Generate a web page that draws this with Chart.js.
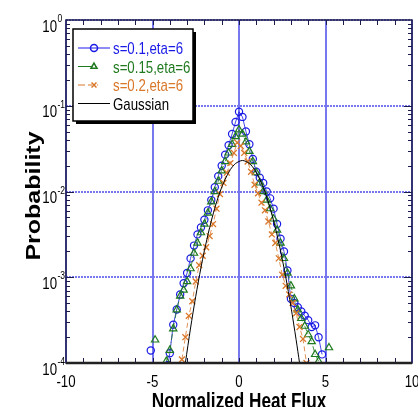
<!DOCTYPE html>
<html>
<head>
<meta charset="utf-8">
<script src="https://cdn.jsdelivr.net/npm/chart.js@4.4.0/dist/chart.umd.min.js"></script>
<style>
  html, body { margin: 0; padding: 0; background: #fff; }
  #wrap { width: 418px; height: 407px; }
</style>
</head>
<body>
<div id="wrap"><canvas id="pdfChart" width="418" height="407"></canvas></div>
<script>
// series names and axis titles
const seriesLabels = ['s=0.1,eta=6', 's=0.15,eta=6', 's=0.2,eta=6', 'Gaussian'];
const xTitle = 'Normalized Heat Flux';
const yTitle = 'Probability';

// axis ticks
const xTicks = [-10, -5, 0, 5, 10];
const yTicks = [1e-4, 1e-3, 1e-2, 1e-1, 1];

// s=0.1 (blue circles)
const blueX = [-5.1, -4.9, -4.3, -4.1, -4.0, -3.8, -3.6, -3.4, -3.2, -3.0, -2.8, -2.6, -2.4, -2.2, -2.0, -1.8, -1.6, -1.4, -1.2, -1.0,
  -0.8, -0.6, -0.4, -0.2, 0.0, 0.2, 0.4, 0.6, 0.8, 1.0, 1.2, 1.4, 1.6, 1.8, 2.0, 2.2, 2.4, 2.6, 2.8, 3.0,
  3.2, 3.4, 3.6, 3.8, 4.0, 4.2, 4.4, 4.6, 4.8];
const blueP = [1.4e-4, 0, 0, 9.5e-5, 1.3e-4, 2.8e-4, 4.2e-4, 6.3e-4, 8.5e-4, 1.12e-3, 1.66e-3, 2.34e-3, 3.16e-3, 3.8e-3, 4.68e-3, 6.03e-3, 7.94e-3, 1.12e-2, 1.51e-2, 2.0e-2,
  2.69e-2, 3.47e-2, 4.68e-2, 6.46e-2, 8.51e-2, 7.41e-2, 5.01e-2, 3.55e-2, 2.4e-2, 1.7e-2, 1.45e-2, 1.26e-2, 1.0e-2, 8.32e-3, 6.31e-3, 4.17e-3, 2.82e-3, 2.0e-3, 1.2e-3, 5.6e-4,
  5.0e-4, 4.47e-4, 3.98e-4, 3.55e-4, 3.16e-4, 2.63e-4, 2.75e-4, 2.0e-4, 1.26e-4];

// s=0.15 (green triangles)
const greenX = [-4.85, -4.6, -4.4, -4.2, -4.0, -3.8, -3.6, -3.4, -3.2, -3.0, -2.8, -2.6, -2.4, -2.2, -2.0, -1.8, -1.6, -1.4, -1.2, -1.0,
  -0.8, -0.6, -0.4, -0.2, 0.0, 0.2, 0.4, 0.6, 0.8, 1.0, 1.2, 1.4, 1.6, 1.8, 2.0, 2.2, 2.4, 2.6, 2.8, 3.0,
  3.2, 3.4, 3.6, 3.8, 4.0, 4.2, 4.4, 4.6, 4.9, 5.1, 5.2, 5.4];
const greenP = [1.86e-4, 0, 0, 1.05e-4, 1.41e-4, 2.51e-4, 4.17e-4, 6.03e-4, 7.08e-4, 8.91e-4, 1.26e-3, 1.91e-3, 2.51e-3, 3.31e-3, 4.17e-3, 5.62e-3, 7.59e-3, 1.0e-2, 1.32e-2, 1.74e-2,
  2.24e-2, 2.82e-2, 3.55e-2, 4.37e-2, 5.25e-2, 4.68e-2, 3.8e-2, 2.95e-2, 2.24e-2, 1.66e-2, 1.26e-2, 1.0e-2, 7.94e-3, 6.31e-3, 4.79e-3, 3.55e-3, 2.51e-3, 1.66e-3, 1.12e-3, 7.94e-4,
  5.62e-4, 4.17e-4, 3.31e-4, 2.69e-4, 2.14e-4, 1.78e-4, 1.26e-4, 1.05e-4, 0, 0, 1.51e-4, 0];

// s=0.2 (orange crosses)
const orangeX = [-3.3, -3.1, -2.9, -2.7, -2.5, -2.3, -2.1, -1.9, -1.7, -1.5, -1.3, -1.1, -0.9, -0.7, -0.5, -0.3, -0.1,
  0.1, 0.3, 0.5, 0.7, 0.9, 1.1, 1.3, 1.5, 1.7, 1.9, 2.1, 2.3, 2.5, 2.7, 2.9, 3.1, 3.3, 3.5, 3.7, 3.9, 4.1];
const orangeP = [1.1e-4, 2.0e-4, 3.55e-4, 5.25e-4, 8.91e-4, 1.38e-3, 1.78e-3, 2.24e-3, 3.02e-3, 4.17e-3, 6.31e-3, 9.33e-3, 1.26e-2, 1.66e-2, 2.14e-2, 2.82e-2, 3.72e-2,
  3.39e-2, 2.82e-2, 2.24e-2, 1.7e-2, 1.2e-2, 9.55e-3, 7.41e-3, 6.03e-3, 4.47e-3, 3.16e-3, 2.51e-3, 1.66e-3, 1.07e-3, 7.94e-4, 6.31e-4, 5.01e-4, 3.8e-4, 2.63e-4, 1.91e-4, 1.0e-4, 0];

// Gaussian reference curve
const gaussX = [-3.1, -2.8, -2.5, -2.2, -2.0, -1.7, -1.4, -1.1, -0.8, -0.5, -0.2, 0.2, 0.6, 0.9, 1.2, 1.5, 1.8, 2.1, 2.4, 2.7, 3.0, 3.3, 3.5];
const gaussP = [1.0e-4, 2.56e-4, 6.0e-4, 1.29e-3, 2.04e-3, 3.78e-3, 6.39e-3, 9.88e-3, 1.39e-2, 1.8e-2, 2.12e-2, 2.3e-2, 2.12e-2, 1.8e-2, 1.39e-2, 9.88e-3, 6.39e-3, 3.78e-3, 2.04e-3, 1.01e-3, 4.56e-4, 1.88e-4, 1.0e-4];

const seriesColors = ['#1a1ae6', '#1f7a1f', '#d9772a', '#000000'];
const gridBlue = '#7878ee';
const frameColor = '#1c1c4c';
const SQ = 0.78; // the source figure has horizontally squashed text

function toPoints(xs, ps) {
    return xs.map((x, i) => ({ x: x, y: ps[i] }));
}

function markerRadius(r) {
    return ctx => (ctx.raw && ctx.raw.y === 0) ? 0 : r;
}

function squeezedText(ctx, text, x, y, font, color, align) {
    ctx.save();
    ctx.translate(x, y);
    ctx.scale(SQ, 1);
    ctx.font = font;
    ctx.fillStyle = color;
    ctx.textAlign = align || 'left';
    ctx.textBaseline = 'alphabetic';
    ctx.fillText(text, 0, 0);
    ctx.restore();
}

// frame, inner tick marks and labels
const axesPlugin = {
    id: 'axesDeco',
    afterDatasetsDraw(chart) {
        const { ctx, chartArea: a, scales: { x, y } } = chart;
        ctx.save();
        ctx.strokeStyle = frameColor;
        ctx.lineWidth = 1;
        ctx.beginPath();
        for (let v = xTicks[0] + 1; v < xTicks[xTicks.length - 1]; v++) {
            const px = Math.round(x.getPixelForValue(v)) + 0.5;
            ctx.moveTo(px, a.bottom); ctx.lineTo(px, a.bottom - 5);
            ctx.moveTo(px, a.top); ctx.lineTo(px, a.top + 5);
        }
        for (let i = 0; i < yTicks.length - 1; i++) {
            for (let m = 1; m < 10; m++) {
                const py = Math.round(y.getPixelForValue(yTicks[i] * m)) + 0.5;
                const len = m === 1 ? 8 : 4;
                ctx.moveTo(a.left, py); ctx.lineTo(a.left + len, py);
                ctx.moveTo(a.right, py); ctx.lineTo(a.right - len, py);
            }
        }
        ctx.stroke();
        ctx.lineWidth = 1.5;
        ctx.strokeRect(a.left, a.top, a.right - a.left, a.bottom - a.top);
        ctx.lineWidth = 2.5;
        ctx.strokeStyle = '#222';
        ctx.beginPath();
        ctx.moveTo(a.left, a.bottom); ctx.lineTo(a.right, a.bottom);
        ctx.stroke();
        ctx.restore();

        // y tick labels 10^n
        yTicks.forEach(v => {
            const py = y.getPixelForValue(v);
            const exp = String(Math.round(Math.log10(v)));
            squeezedText(ctx, '10', 57, py + 11.5, '17px "Liberation Sans", Arial, sans-serif', '#000', 'right');
            squeezedText(ctx, exp, 57.5, py + 2, '11px "Liberation Sans", Arial, sans-serif', '#000', 'left');
        });
        // x tick labels
        xTicks.forEach(v => {
            const px = x.getPixelForValue(v);
            squeezedText(ctx, String(v), px, 387, '17px "Liberation Sans", Arial, sans-serif', '#000', 'center');
        });
        // axis titles
        squeezedText(ctx, xTitle, x.getPixelForValue(0), 408, 'bold 22px "Liberation Sans", Arial, sans-serif', '#000', 'center');
        ctx.save();
        ctx.translate(35, 196);
        ctx.rotate(-Math.PI / 2);
        ctx.scale(1, SQ);
        ctx.font = 'bold 25px "Liberation Sans", Arial, sans-serif';
        ctx.fillStyle = '#000';
        ctx.textAlign = 'center';
        ctx.textBaseline = 'middle';
        ctx.fillText(yTitle, 0, 0);
        ctx.restore();
    }
};

// boxed legend with drop shadow
const legendPlugin = {
    id: 'boxLegend',
    afterDraw(chart) {
        const ctx = chart.ctx;
        const bx = 73, by = 29, bw = 120, bh = 92;
        ctx.save();
        ctx.fillStyle = '#000';
        ctx.fillRect(bx + 3, by + 3, bw, bh);
        ctx.fillStyle = '#fff';
        ctx.fillRect(bx, by, bw, bh);
        ctx.strokeStyle = '#000';
        ctx.lineWidth = 1.5;
        ctx.strokeRect(bx, by, bw, bh);

        const rowsY = [48, 66.5, 85, 103.5];
        const styles = ['circle', 'triangle', 'crossRot', null];
        const dashes = [[], [14, 3, 1, 30], [7, 3, 4, 5, 1, 20], []];
        rowsY.forEach((ry, i) => {
            const col = seriesColors[i];
            ctx.save();
            ctx.strokeStyle = col;
            ctx.lineWidth = 1;
            ctx.setLineDash(dashes[i]);
            ctx.beginPath();
            ctx.moveTo(78, ry); ctx.lineTo(110, ry);
            ctx.stroke();
            ctx.restore();
            if (styles[i]) {
                ctx.save();
                ctx.strokeStyle = col;
                ctx.fillStyle = 'rgba(0,0,0,0)';
                Chart.helpers.drawPoint(ctx, { pointStyle: styles[i], radius: 3.5, borderWidth: 1, rotation: 0 }, 94, ry);
                ctx.restore();
            }
            squeezedText(ctx, seriesLabels[i], 113, ry + 6, '17px "Liberation Sans", Arial, sans-serif', col, 'left');
        });
        ctx.restore();
    }
};

const ctx = document.getElementById('pdfChart').getContext('2d');
const pdfChart = new Chart(ctx, {
    type: 'scatter',
    data: {
        datasets: [{
            label: seriesLabels[0],
            data: toPoints(blueX, blueP),
            showLine: true,
            borderColor: seriesColors[0],
            borderWidth: 0.8,
            pointStyle: 'circle',
            pointRadius: markerRadius(3.6),
            pointBorderWidth: 1.2,
            pointBorderColor: seriesColors[0],
            pointBackgroundColor: 'rgba(0,0,0,0)',
            order: 4
        }, {
            label: seriesLabels[1],
            data: toPoints(greenX, greenP),
            showLine: true,
            borderColor: seriesColors[1],
            borderWidth: 0.8,
            borderDash: [6, 2, 1, 2],
            pointStyle: 'triangle',
            pointRadius: markerRadius(4.2),
            pointBorderWidth: 1.2,
            pointBorderColor: seriesColors[1],
            pointBackgroundColor: 'rgba(0,0,0,0)',
            order: 3
        }, {
            label: seriesLabels[2],
            data: toPoints(orangeX, orangeP),
            showLine: true,
            borderColor: seriesColors[2],
            borderWidth: 0.8,
            borderDash: [5, 3],
            pointStyle: 'crossRot',
            pointRadius: markerRadius(4.2),
            pointBorderWidth: 1.3,
            pointBorderColor: seriesColors[2],
            order: 2
        }, {
            label: seriesLabels[3],
            data: toPoints(gaussX, gaussP),
            showLine: true,
            borderColor: seriesColors[3],
            borderWidth: 1,
            pointRadius: 0,
            tension: 0.3,
            order: 1
        }]
    },
    options: {
        responsive: false,
        animation: false,
        layout: { padding: { left: 66, right: 6, top: 20, bottom: 44 } },
        plugins: {
            legend: { display: false },
            tooltip: { enabled: false }
        },
        scales: {
            x: {
                type: 'linear',
                min: -10,
                max: 10,
                afterBuildTicks: s => { s.ticks = xTicks.map(v => ({ value: v })); },
                ticks: { display: false },
                grid: { color: gridBlue, lineWidth: 2, drawTicks: false },
                border: { display: false }
            },
            y: {
                type: 'logarithmic',
                min: 1e-4,
                max: 1,
                afterBuildTicks: s => { s.ticks = yTicks.map(v => ({ value: v })); },
                ticks: { display: false },
                grid: { color: gridBlue, lineWidth: 2, drawTicks: false },
                border: { display: false, dash: [2, 1] }
            }
        }
    },
    plugins: [axesPlugin, legendPlugin]
});
</script>
</body>
</html>
